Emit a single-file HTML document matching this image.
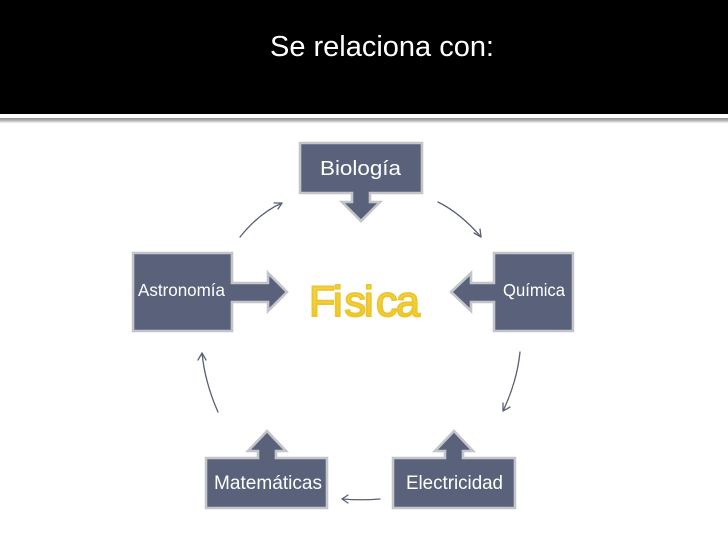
<!DOCTYPE html>
<html>
<head>
<meta charset="utf-8">
<style>
html,body{margin:0;padding:0;background:#fff;}
svg{display:block;}
text{font-family:"Liberation Sans",sans-serif;}
</style>
</head>
<body>
<svg width="728" height="546" viewBox="0 0 728 546" xmlns="http://www.w3.org/2000/svg">
<defs>
<linearGradient id="bar" x1="0" y1="0" x2="0" y2="1">
<stop offset="0" stop-color="#8f8f8f"/>
<stop offset="0.5" stop-color="#b5b5b5"/>
<stop offset="1" stop-color="#f4f4f4"/>
</linearGradient>
<linearGradient id="gold" x1="0" y1="0" x2="0" y2="1">
<stop offset="0" stop-color="#f8dc50"/>
<stop offset="1" stop-color="#efc325"/>
</linearGradient>
</defs>
<rect width="728" height="546" fill="#fff"/>
<rect width="728" height="114" fill="#000"/>
<rect y="118" width="728" height="5" fill="url(#bar)"/>
<text x="270" y="56" font-size="29" fill="#fff" textLength="224" lengthAdjust="spacingAndGlyphs">Se relaciona con:</text>

<g fill="#59627a" stroke="#c4c5c9" stroke-width="2.6" stroke-linejoin="miter">
<path d="M300 143H422V193H370V202H380L361 221L342 202H352V193H300Z"/>
<path d="M133 253H232V283H268V273L287 292L268 311V302H232V331H133Z"/>
<path d="M573 253H494V283H471V273L451 292L471 311V302H494V331H573Z"/>
<path d="M393 458H445V451H435L454 431L473 451H463V458H515V508H393Z"/>
<path d="M206 458H258V451H248L267 431L286 451H276V458H327V508H206Z"/>
</g>

<g fill="#fff" font-size="20">
<text x="320" y="175" textLength="81" lengthAdjust="spacingAndGlyphs">Biología</text>
<text x="138" y="296" font-size="17.5" textLength="87" lengthAdjust="spacingAndGlyphs">Astronomía</text>
<text x="503" y="296" font-size="17.5" textLength="62" lengthAdjust="spacingAndGlyphs">Química</text>
<text x="406" y="489" font-size="19.5" textLength="97" lengthAdjust="spacingAndGlyphs">Electricidad</text>
<text x="214" y="489" font-size="19.5" textLength="108" lengthAdjust="spacingAndGlyphs">Matemáticas</text>
</g>

<text x="309 333 344.5 364 376 396" y="316" font-size="43" fill="url(#gold)" stroke="#ecc52f" stroke-width="2">Fisica</text>

<g fill="none" stroke="#5a6174" stroke-width="1.3" stroke-linecap="round" stroke-linejoin="round">
<path d="M240 237C252 222 266 210 282 203"/>
<path d="M274 203L282 203L278 209"/>
<path d="M438 202C454 210 469 223 481 237"/>
<path d="M474 233L481 237L480 229"/>
<path d="M520 352C518 372 512 392 503 411"/>
<path d="M503 403L503 411L510 407"/>
<path d="M218 412C210 394 204 373 202 353"/>
<path d="M198 360L202 353L206 360"/>
<path d="M380 499C368 500 355 500 342 499"/>
<path d="M348 495L342 499L348 503"/>
</g>
</svg>
</body>
</html>
